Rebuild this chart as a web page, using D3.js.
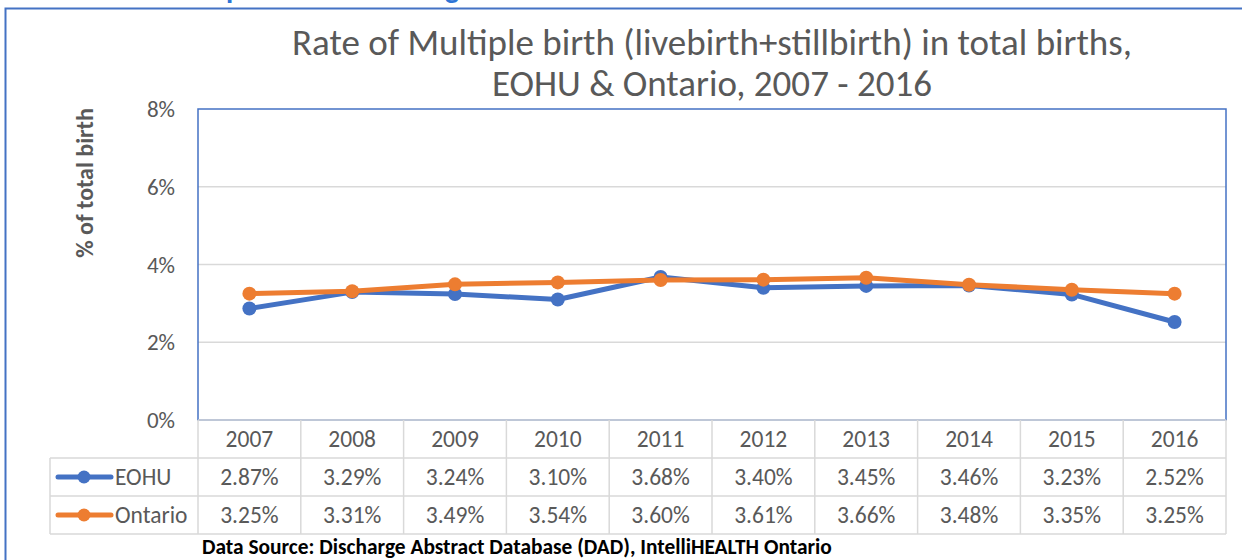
<!DOCTYPE html>
<html><head><meta charset="utf-8">
<script src="https://cdn.jsdelivr.net/npm/d3@7"></script>
<style>body{margin:0;background:#fff}svg{display:block}text{font-family:Carlito,Calibri,"Liberation Sans",Arial,sans-serif}</style>
</head><body><svg id="c" width="1242" height="560"></svg>
<script>
const years = ["2007","2008","2009","2010","2011","2012","2013","2014","2015","2016"];
const eohu = [2.87,3.29,3.24,3.10,3.68,3.40,3.45,3.46,3.23,2.52];
const ontario = [3.25,3.31,3.49,3.54,3.60,3.61,3.66,3.48,3.35,3.25];
const yTicks = [0,2,4,6,8];
const seriesNames = ["EOHU","Ontario"];
const colors = ["#4472C4","#ED7D31"];
const titleLines = ["Rate of Multiple birth (livebirth+stillbirth) in total births,","EOHU & Ontario, 2007 - 2016"];
const yTitle = "% of total birth";
const source = "Data Source: Discharge Abstract Database (DAD), IntelliHEALTH Ontario";
const heading = "Multiple Birth Percentage";

const svg = d3.select("#c");
const L=198,R=1226,T=109,B=420, rowH=38;
const x = d3.scaleBand().domain(years).range([L,R]);
const y = d3.scaleLinear().domain([0,8]).range([B,T]);

// partially cut heading (only descenders visible)
const h = svg.append("text").attr("x",0).attr("y",-2).attr("fill","#2E75D6").attr("font-weight","bold")
  .attr("font-size",28).text(heading);
{
  const n=h.node();
  const ip=heading.indexOf("p"), ig=heading.lastIndexOf("g");
  const px=n.getStartPositionOfChar(ip).x, gx=n.getStartPositionOfChar(ig).x;
  const s=(445-226)/(gx-px);
  h.attr("font-size",28*s);
  const px2=n.getStartPositionOfChar(ip).x;
  h.attr("x",226-px2);
}
// outer frame
svg.append("path").attr("d","M5.5,560 V8.5 H1242").attr("fill","none").attr("stroke","#4472C4").attr("stroke-width",2);

// title
titleLines.forEach((t,i)=>svg.append("text").attr("x",712).attr("y",55+i*41).attr("text-anchor","middle")
  .attr("font-size",37).attr("fill","#595959").text(t));

// gridlines
svg.append("g").selectAll("line").data(yTicks.filter(d=>d>0&&d<8)).join("line")
  .attr("x1",L).attr("x2",R).attr("y1",d=>y(d)).attr("y2",d=>y(d)).attr("stroke","#d9d9d9").attr("stroke-width",1.5);
// plot border
svg.append("rect").attr("x",L).attr("y",T).attr("width",R-L).attr("height",B-T).attr("fill","none").attr("stroke","#4472C4").attr("stroke-width",1.5);

// y labels
svg.append("g").selectAll("text").data(yTicks).join("text").attr("x",175).attr("y",d=>y(d)+8)
  .attr("text-anchor","end").attr("font-size",23).attr("fill","#595959").text(d=>d+"%");
svg.append("text").attr("transform","translate(93,183) rotate(-90)").attr("text-anchor","middle")
  .attr("font-size",24).attr("font-weight","bold").attr("fill","#595959").text(yTitle);

// table
const tg = svg.append("g");
const gridC="#d9d9d9";
[B, B+rowH, B+2*rowH, B+3*rowH].forEach((yy,i)=>{
  tg.append("line").attr("x1",i===0?L:50).attr("x2",R).attr("y1",yy).attr("y2",yy).attr("stroke",gridC).attr("stroke-width",1.5);
});
years.forEach((yr,i)=>tg.append("line").attr("x1",x(yr)).attr("x2",x(yr)).attr("y1",B).attr("y2",B+3*rowH).attr("stroke",gridC).attr("stroke-width",1.5));
tg.append("line").attr("x1",R).attr("x2",R).attr("y1",B).attr("y2",B+3*rowH).attr("stroke",gridC).attr("stroke-width",1.5);
tg.append("line").attr("x1",50).attr("x2",50).attr("y1",B+rowH).attr("y2",B+3*rowH).attr("stroke",gridC).attr("stroke-width",1.5);
tg.selectAll(".yr").data(years).join("text").attr("x",d=>x(d)+x.bandwidth()/2).attr("y",B+rowH/2+8)
  .attr("text-anchor","middle").attr("font-size",23.5).attr("fill","#595959").text(d=>d);
const data=[eohu,ontario];
data.forEach((vals,si)=>{
  const ry=B+rowH*(si+1);
  tg.append("g").selectAll("text").data(vals).join("text").attr("x",(d,i)=>x(years[i])+x.bandwidth()/2)
    .attr("y",ry+rowH/2+8).attr("text-anchor","middle").attr("font-size",23.5).attr("fill","#595959").text(d=>d.toFixed(2)+"%");
  tg.append("line").attr("x1",58).attr("x2",111).attr("y1",ry+rowH/2).attr("y2",ry+rowH/2).attr("stroke",colors[si]).attr("stroke-width",5).attr("stroke-linecap","round");
  tg.append("circle").attr("cx",84).attr("cy",ry+rowH/2).attr("r",6.5).attr("fill",colors[si]);
  tg.append("text").attr("x",115).attr("y",ry+rowH/2+8).attr("font-size",23.5).attr("fill","#595959").text(seriesNames[si]);
});

// lines
const line = d3.line().x((d,i)=>x(years[i])+x.bandwidth()/2).y(d=>y(d));
data.forEach((vals,si)=>{
  const g=svg.append("g");
  g.append("path").attr("d",line(vals)).attr("fill","none").attr("stroke",colors[si]).attr("stroke-width",5).attr("stroke-linejoin","round");
  g.selectAll("circle").data(vals).join("circle").attr("cx",(d,i)=>x(years[i])+x.bandwidth()/2).attr("cy",d=>y(d)).attr("r",7).attr("fill",colors[si]);
});

svg.append("text").attr("x",202).attr("y",554).attr("font-size",21.4).attr("font-weight","bold").attr("fill","#000").text(source);
</script></body></html>
